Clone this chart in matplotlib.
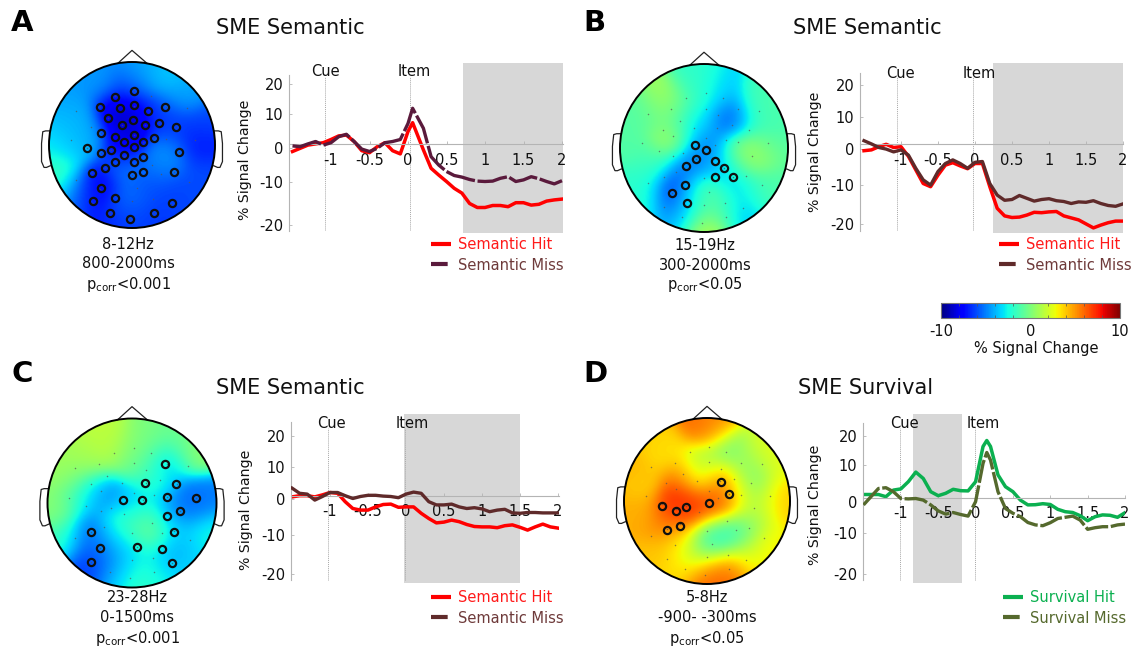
import numpy as np
import matplotlib
matplotlib.use("Agg")
import matplotlib.pyplot as plt
from matplotlib.patches import Circle
from matplotlib.cm import ScalarMappable
from matplotlib.colors import Normalize
from matplotlib.ticker import FixedLocator

W, H = 1138, 651
plt.rcParams['font.family'] = ['DejaVu Sans']
plt.rcParams['mathtext.fontset'] = 'dejavusans'

# ---------- time courses ----------
t = [-1.5,-1.4,-1.3,-1.2,-1.1,-1.0,-0.9,-0.8,-0.7,-0.6,-0.5,-0.4,-0.3,-0.2,-0.1,0.0,0.1,0.2,0.3,0.4,0.5,
     0.6,0.7,0.8,0.9,1.0,1.1,1.2,1.3,1.4,1.5,1.6,1.7,1.8,1.9,2.0]
t_a = [-1.5,-1.4,-1.3,-1.2,-1.1,-1.0,-0.9,-0.8,-0.7,-0.6,-0.5,-0.4,-0.3,-0.2,-0.1,0.0,0.06,0.2,0.3,0.4,0.5,
       0.6,0.7,0.8,0.9,1.0,1.1,1.2,1.3,1.4,1.5,1.6,1.7,1.8,1.9,2.0]
t_d = [-1.5,-1.4,-1.3,-1.2,-1.1,-1.0,-0.9,-0.8,-0.7,-0.6,-0.5,-0.4,-0.3,-0.2,-0.1,0.0,0.1,0.15,0.2,0.3,0.4,0.5,
       0.6,0.7,0.8,0.9,1.0,1.1,1.2,1.3,1.4,1.5,1.6,1.7,1.8,1.9,2.0]

a_hit = [-1.8,-1,-0.2,0.1,0.4,1.2,2.1,2.3,0.7,-1.6,-2.1,-0.6,0.4,-1.6,-2.4,3.2,5.4,-1.4,-6,-7.7,-9.3,
         -11,-12.2,-14.8,-15.8,-15.8,-15.3,-15.3,-15.6,-14.6,-14.6,-15.2,-15,-14.2,-13.9,-13.7]
a_miss = [-0.4,-0.6,0.1,0.7,-0.2,0.4,1.9,2.5,0.7,-1.2,-1.8,-1,0.4,0.7,1.2,5.2,9,4,-3.1,-5.2,-6.8,
          -7.8,-8.2,-8.8,-9.2,-9.3,-9.2,-8.5,-8.1,-9.3,-8.9,-8.1,-8.6,-9.3,-9.9,-9.1]
b_hit = [-1.6,-1.4,-0.6,0,-0.8,-0.6,-3,-6.4,-9.8,-10.6,-7.7,-5.2,-4.6,-5.4,-6.1,-4.8,-4.8,-10.6,-16,-17.9,-18.3,
         -18.2,-17.7,-17,-17.1,-16.9,-16.8,-17.9,-18.4,-18.9,-19.9,-20.9,-20.2,-19.6,-19.2,-19.2]
b_miss = [0.9,0.1,-0.8,-1.2,-1.9,-1.4,-2.7,-6,-8.9,-10.2,-6.8,-4.8,-3.9,-4.8,-6,-4.5,-4.3,-9.8,-12.7,-14,-13.8,
          -12.8,-13.5,-14.2,-13.8,-13.6,-14.1,-14.3,-14.8,-14.4,-14.5,-14.1,-14.8,-15.3,-15.5,-14.9]
c_hit = [-0.3,0,0,-0.3,0.2,0.8,0.6,-1.5,-3.2,-3.6,-3.6,-2.8,-2.2,-2.1,-2.9,-2.8,-2.8,-4.4,-5.7,-6.8,-6.6,
         -6.1,-6.5,-7.2,-7.7,-7.8,-7.8,-8,-7.5,-7.3,-7.9,-8.6,-7.8,-7.1,-7.8,-8.1]
c_miss = [1.9,0.6,0.4,-1.1,-0.2,0.8,0.8,0,-0.7,-0.2,0.1,0.1,-0.1,-0.2,-0.5,0.4,0.9,0.6,-1.5,-2.3,-2.3,
          -2.1,-2.8,-3.2,-3,-3.3,-4,-3.6,-3.4,-4.3,-4.4,-4.2,-4.2,-4.3,-4.3,-4.3]
d_hit = [0.8,0.8,0.8,0.25,1.9,2.2,4,6.4,4.8,1.5,0.5,1.1,2.1,1.75,1.7,4,12.8,14.3,12.8,5.7,2.75,1.5,
         -0.6,-1.8,-1.75,-1.5,-1.7,-2.9,-3.5,-3.7,-4.5,-5.75,-4.75,-4.3,-4.4,-4.9,-3.75]
d_miss = [-1.8,0.25,2.3,2.5,1.5,-0.2,-0.3,-0.2,-0.6,-1.8,-3.3,-4.1,-3.7,-4.2,-4.6,-1,8.6,11.3,9.4,1.5,-2.7,-3.9,
          -4.75,-6.2,-6.8,-7,-6.25,-5.2,-4.9,-4.6,-5.6,-7.9,-7.5,-7.25,-7.25,-6.8,-6.6]

x_ticks = [-1, -0.5, 0, 0.5, 1, 1.5, 2]
x_tick_labels = ['-1', '-0.5', '0', '0.5', '1', '1.5', '2']
y_tick_labels = ['20', '10', '0', '-10', '-20']

# ---------- scalp readings: x, y, % signal change ----------
a_read = [(-0.95,-0.3,-1.5),(-0.85,-0.45,-1.5),(-0.98,0,-3),(-0.75,0,-3.5),(-0.7,0.3,-4),(-0.55,0.1,-4.2),(-0.8,0.5,-4.5),(-0.85,0.3,-3.5),
          (-0.4,0.75,-4.5),(0.2,0.9,-3.8),(0.4,0.85,-3.5),(0.6,0.6,-4.3),(0.85,0.2,-6),(0.8,0,-7.5),(0.85,-0.3,-6),(0.45,-0.1,-4.3),
          (0.35,-0.25,-5),(0,0.7,-6.3),(0.05,0.95,-4.5),(-0.2,0.4,-8.5),(0,0.3,-8.8),(-0.1,0,-8),(0.3,0.4,-6.3),(-0.4,-0.5,-8),(-0.55,-0.6,-7.3),
          (-0.1,-0.3,-5),(-0.05,-0.7,-5),(0.2,-0.5,-6),(0.5,-0.6,-6.3),(-0.2,-0.9,-7),(0,-0.95,-6),(0.2,-0.9,-6.5),(0.7,-0.6,-6),(-0.7,-0.6,-5),(0.5,0.2,-6.5)]
b_read = [(-0.45,0.55,1.2),(-0.4,0.1,1),(0.6,-0.1,1.5),(0.45,-0.1,0.3),(0,-0.95,1.5),(0,-0.55,0),(-0.38,-0.53,-7.5),(-0.2,-0.25,-5.5),(0,0,-5),
          (0.2,-0.2,-4),(0.35,0.35,-5.5),(0.2,0.7,-3.5),(0.4,-0.4,-3.5),(-0.3,-0.8,-4),(0.5,-0.75,-3.5),(0.8,0.5,-1),(-0.8,-0.4,-2),
          (0.85,-0.5,-1),(-0.1,0.3,-3.5),(-0.7,0.4,-1),(0.7,0.3,-1.5),(-0.05,0.85,-2),(0.2,-0.7,-1.5),(-0.6,-0.2,-1.5),(-0.9,0,-1),
          (0.8,0,-1),(-0.15,-0.6,-3),(-0.3,0.4,-1),(-0.1,0.7,-1.5),(0.7,0.6,-1.5),(-0.7,-0.6,-2),(0.7,-0.5,-1.5)]
c_read = [(-0.3,0.75,1.6),(-0.75,0.3,0.8),(-0.5,0.5,1),(0,0.6,0.3),(0.7,0.6,0.5),(0.4,0.48,-4.2),(0.5,0.8,-0.5),(0.3,0.2,-2),(0.6,0,-6),
          (0.8,0.05,-5),(0.45,-0.1,-4.5),(-0.4,0.1,-5),(-0.6,0.1,-2),(-0.9,-0.1,0.3),(0,0,-4),(0.1,-0.2,-1),(0.25,-0.3,0.5),(-0.2,-0.3,-1.3),
          (0.5,-0.35,-3.5),(0.85,-0.35,-2.5),(-0.5,-0.35,-6),(-0.5,-0.7,-6.5),(-0.3,-0.5,-5),(0,-0.55,-3),(0,-0.9,-1.5),(-0.2,-0.8,-4.5),
          (0.3,-0.8,-2.5),(0.5,-0.6,-4.5),(-0.8,-0.4,-2),(0.7,-0.7,-3),(0.2,0.75,0),(0.15,0.45,-1)]
d_read = [(-0.1,0.9,6),(0.1,0.9,5),(-0.5,0.6,3),(-0.3,0.3,6),(-0.8,0.2,3.5),(-0.4,-0.05,7.5),(-0.2,-0.1,7),(0.05,-0.05,7),(0.2,0.2,6.5),
          (0.28,0.05,6),(-0.5,-0.3,5.5),(-0.8,-0.2,4.5),(-0.3,-0.5,3),(0.1,-0.4,-1),(0.08,-0.55,-3),(0.35,-0.38,-2),(0.5,-0.6,1),(-0.1,-0.7,1.5),
          (0.1,-0.9,6),(0.2,-0.85,5.5),(-0.35,-0.85,3.5),(0.5,-0.8,3),(0.52,0.25,-1),(0.25,0.6,-0.5),(-0.1,0.45,0.5),(0,0.3,2.5),(0.5,0.5,1),
          (0.65,0,1.5),(0.9,0,3.5),(0.85,0.4,2.5),(0.8,-0.5,3),(0.55,-0.2,1),(0.45,0.15,1),(-0.9,0.35,4.5),(-0.6,0.7,4),(-0.95,-0.1,4.5),
          (-0.65,-0.65,4),(0,-0.97,6.5),(0.3,-0.9,6.5),(0.95,0,4.2),(0.7,0.65,2.5),(0.7,-0.7,3.5)]

a_sig = [(0.02,0.65),(-0.21,0.58),(-0.38,0.46),(-0.15,0.44),(0.02,0.48),(0.19,0.41),(0.40,0.46),(-0.29,0.32),(0.01,0.30),(-0.12,0.24),
         (0.16,0.24),(0.33,0.27),(0.53,0.22),(-0.37,0.14),(-0.21,0.10),(0.02,0.12),(-0.10,0.04),(0.13,0.04),(0.26,0.09),(0.02,-0.02),
         (-0.54,-0.04),(-0.25,-0.06),(-0.37,-0.10),(-0.10,-0.12),(0.13,-0.14),(0.57,-0.08),(0.02,-0.20),(-0.21,-0.21),(-0.33,-0.28),
         (-0.48,-0.34),(0,-0.36),(0.13,-0.33),(0.50,-0.33),(-0.37,-0.52),(-0.20,-0.64),(-0.47,-0.68),(0.48,-0.70),(-0.26,-0.82),(0.26,-0.82),(-0.02,-0.89)]
b_sig = [(-0.11,0.04),(0.02,-0.02),(-0.10,-0.13),(0.13,-0.15),(-0.21,-0.22),(0.24,-0.24),(0.13,-0.34),(0.35,-0.35),(-0.23,-0.44),(-0.38,-0.53),(-0.20,-0.65)]
c_sig = [(0.39,0.46),(0.15,0.24),(0.52,0.22),(-0.11,0.04),(0.12,0.03),(0.41,0.07),(0.76,0.06),(0.57,-0.09),(0.41,-0.15),(0.50,-0.34),
         (-0.49,-0.34),(-0.38,-0.53),(0.06,-0.52),(0.36,-0.54),(-0.48,-0.70),(0.47,-0.71)]
d_sig = [(0.17,0.23),(0.26,0.08),(0.02,-0.03),(-0.25,-0.07),(-0.37,-0.12),(-0.54,-0.06),(-0.33,-0.30),(-0.48,-0.35)]

sensors = [(-0.21,0.59),(0.02,0.65),(0.23,0.59),(-0.39,0.46),(0.02,0.47),(0.41,0.46),(0.66,0.44),(-0.67,0.41),(-0.29,0.32),(0.17,0.39),
           (-0.12,0.24),(0.16,0.24),(0.33,0.27),(0.53,0.22),(-0.49,0.22),(-0.37,0.14),(0.02,0.12),(0.26,0.09),(-0.74,0.06),(-0.54,-0.04),
           (-0.37,-0.10),(0.41,0.07),(0.76,0.06),(0.57,-0.09),(-0.25,-0.06),(0.13,0.04),(-0.67,-0.42),(-0.48,-0.34),(0,-0.36),(0.35,-0.35),
           (0.69,-0.44),(-0.38,-0.53),(-0.33,-0.28),(0.06,-0.52),(0.24,-0.24),(0.25,-0.65),(-0.48,-0.70),(0,-0.68),(0.47,-0.71),(-0.26,-0.82),
           (0.26,-0.82),(-0.02,-0.89),(0.50,-0.33),(-0.10,-0.13)]

cb_ticks = [-10, 0, 10]
cb_minor = [-8, -6, -4, -2, 2, 4, 6, 8]

# ---------- layout (pixels of the 1138x651 canvas) ----------
panels = [
    dict(letter='A', lx=22, ly=23, title='SME Semantic', tx=290, ty=28,
         head=(132, 145, 83), read=a_read, sig=a_sig, info=('8-12Hz', '800-2000ms', r'p$_{\mathrm{corr}}$<0.001'), ix=128, iy=(244, 264, 285),
         x0=408, xu=77, left=289, right=563, top=63.3, bottom=233.3, zero=144.3,
         span=(0.714, 2.013), cue=-1.078, item=0.026, cue_xy=(325, 72), item_xy=(414, 72),
         spine=(75, 231), ylabel=(245, 160), ypos=[15, 7.5, -1, -9.5, -20.25],
         time=t_a, hit=a_hit, miss=a_miss, miss_ls=(0, (9, 0.8)),
         names=('Semantic Hit', 'Semantic Miss'), colors=('#ff0000', '#5a1a3c'), tcolors=('#ff1a1a', '#6e3a3a'), leg=(431, 237)),
    dict(letter='B', lx=594, ly=23, title='SME Semantic', tx=867, ty=28,
         head=(704, 148, 84), read=b_read, sig=b_sig, info=('15-19Hz', '300-2000ms', r'p$_{\mathrm{corr}}$<0.05'), ix=705, iy=(245, 265, 285),
         x0=975, xu=74, left=860, right=1123, top=63.3, bottom=233.3, zero=144.3,
         span=(0.243, 2.0), cue=-1.054, item=-0.027, cue_xy=(900, 73), item_xy=(979, 73),
         spine=(73, 231), ylabel=(815, 152), ypos=[14.75, 6.75, -1.25, -10.25, -20],
         time=t, hit=b_hit, miss=b_miss, miss_ls='-',
         names=('Semantic Hit', 'Semantic Miss'), colors=('#ff0000', '#5f2a2a'), tcolors=('#ff1a1a', '#6e3a3a'), leg=(999, 237)),
    dict(letter='C', lx=22, ly=374, title='SME Semantic', tx=290, ty=388,
         head=(132, 503, 84.5), read=c_read, sig=c_sig, info=('23-28Hz', '0-1500ms', r'p$_{\mathrm{corr}}$<0.001'), ix=137, iy=(598, 618, 639),
         x0=406, xu=76, left=291, right=559, top=414, bottom=583.3, zero=495.7,
         span=(-0.026, 1.5), cue=-1.026, item=-0.013, cue_xy=(331, 424), item_xy=(412, 424),
         spine=(422, 580), ylabel=(246, 510), ypos=[15, 7.25, -0.8, -9.8, -19.6],
         time=t, hit=c_hit, miss=c_miss, miss_ls='-',
         names=('Semantic Hit', 'Semantic Miss'), colors=('#ff0000', '#5f2a2a'), tcolors=('#ff1a1a', '#6e3a3a'), leg=(431, 590)),
    dict(letter='D', lx=595, ly=374, title='SME Survival', tx=866, ty=388,
         head=(707, 501, 83), read=d_read, sig=d_sig, info=('5-8Hz', '-900- -300ms', r'p$_{\mathrm{corr}}$<0.05'), ix=707, iy=(598, 618, 639),
         x0=976, xu=75, left=863, right=1125, top=414, bottom=583.3, zero=497.7,
         span=(-0.84, -0.187), cue=-1.013, item=-0.013, cue_xy=(904, 424), item_xy=(983, 424),
         spine=(423, 580), ylabel=(815, 505), ypos=[15.5, 8.2, -1.2, -8.9, -19.1],
         time=t_d, hit=d_hit, miss=d_miss, miss_ls=(0, (7, 0.8)),
         names=('Survival Hit', 'Survival Miss'), colors=('#0bb050', '#55692d'), tcolors=('#0bb050', '#55692d'), leg=(1003, 590)),
]

fig = plt.figure(figsize=(W / 100, H / 100), dpi=100, facecolor='white')

def px_text(x, y, s, **kw):
    kw.setdefault('ha', 'center')
    kw.setdefault('va', 'center')
    return fig.text(x / W, 1 - y / H, s, **kw)

def px_axes(l, t_, r, b):
    return fig.add_axes([l / W, 1 - b / H, (r - l) / W, (b - t_) / H])

def draw_head(p):
    cx, cy, R = p['head']
    k = 1.3
    ax = px_axes(cx - k * R, cy - k * R, cx + k * R, cy + k * R)
    ax.set_xlim(-k, k); ax.set_ylim(-k, k); ax.axis('off')
    r = np.array(p['read'])
    gx, gy = np.meshgrid(np.linspace(-1, 1, 220), np.linspace(-1, 1, 220))
    d2 = (gx[..., None] - r[:, 0]) ** 2 + (gy[..., None] - r[:, 1]) ** 2
    w = np.exp(-d2 / (2 * 0.17 ** 2)) + 1e-9
    z = (w * r[:, 2]).sum(-1) / w.sum(-1)
    im = ax.imshow(z, extent=(-1, 1, -1, 1), origin='lower', cmap='jet', vmin=-10, vmax=10, interpolation='bilinear', zorder=1)
    im.set_clip_path(Circle((0, 0), 1, transform=ax.transData))
    ax.add_patch(Circle((0, 0), 1, fc='none', ec='black', lw=1.4, zorder=4))
    ax.plot([-0.17, 0, 0.18], [0.985, 1.14, 0.985], color='#222222', lw=0.9, zorder=3)
    for sgn in (-1, 1):
        ax.plot([sgn * v for v in (0.985, 1.04, 1.075, 1.09, 1.09, 1.06, 1.03, 0.985)],
                [0.17, 0.17, 0.16, 0.02, -0.2, -0.27, -0.27, -0.25], color='#222222', lw=0.9, zorder=3)
    s = np.array(sensors)
    ax.scatter(s[:, 0], s[:, 1], s=1.2, color='#555555', alpha=0.7, linewidths=0, zorder=5)
    g = np.array(p['sig'])
    ax.plot(g[:, 0], g[:, 1], ls='none', marker='o', ms=5.2, mfc='none', mec='#101010', mew=1.6, zorder=6)

def draw_lines(p):
    ax = px_axes(p['left'], p['top'], p['right'], p['bottom'])
    yu = 4.0
    ax.set_xlim((p['left'] - p['x0']) / p['xu'], (p['right'] - p['x0']) / p['xu'])
    ax.set_ylim((p['zero'] - p['bottom']) / yu, (p['zero'] - p['top']) / yu)
    ax.patch.set_alpha(0)
    ax.axvspan(p['span'][0], p['span'][1], color='#d7d7d7', lw=0, zorder=0)
    for v in (p['cue'], p['item']):
        ax.axvline(v, ymin=0.02, ymax=0.92, color='#a8a8a8', lw=0.7, ls=(0, (1, 1)), zorder=1)
    for sp in ('top', 'right'):
        ax.spines[sp].set_visible(False)
    ax.spines['bottom'].set_position(('data', 0))
    ax.spines['bottom'].set_color('#b4b4b4')
    ax.spines['bottom'].set_linewidth(0.8)
    ax.spines['left'].set_color('#b4b4b4')
    ax.spines['left'].set_linewidth(0.8)
    ax.spines['left'].set_bounds((p['zero'] - p['spine'][1]) / yu, (p['zero'] - p['spine'][0]) / yu)
    ax.set_xticks(x_ticks, x_tick_labels)
    ax.tick_params(axis='x', direction='in', length=2, width=0.6, color='#b4b4b4', labelsize=10.5, pad=6, labelcolor='#111111')
    ax.set_yticks(p['ypos'], y_tick_labels)
    ax.tick_params(axis='y', direction='in', length=2, width=0.6, color='#b4b4b4', labelsize=10.5, pad=4, labelcolor='#111111')
    ax.plot(p['time'], p['hit'], color=p['colors'][0], lw=2.5, zorder=2, solid_joinstyle='round')
    ax.plot(p['time'], p['miss'], color=p['colors'][1], lw=2.4, ls=p['miss_ls'], zorder=3, solid_joinstyle='round')
    px_text(*p['cue_xy'], 'Cue', fontsize=10.5, color='#111111')
    px_text(*p['item_xy'], 'Item', fontsize=10.5, color='#111111')
    px_text(*p['ylabel'], '% Signal Change', fontsize=10.2, rotation=90, color='#111111')
    hit_h, = ax.plot([], [], color=p['colors'][0], lw=3, solid_capstyle='butt')
    miss_h, = ax.plot([], [], color=p['colors'][1], lw=3, ls=(0, (4, 1, 1.2, 1)))
    leg = ax.legend([hit_h, miss_h], list(p['names']), loc='upper left',
                    bbox_to_anchor=(p['leg'][0] / W, 1 - p['leg'][1] / H), bbox_transform=fig.transFigure,
                    frameon=False, fontsize=10.5, borderpad=0, borderaxespad=0, handlelength=1.37, handletextpad=0.45, labelspacing=0.38)
    for txt, c in zip(leg.get_texts(), p['tcolors']):
        txt.set_color(c)

for p in panels:
    px_text(p['lx'], p['ly'], p['letter'], fontsize=21, fontweight='bold', color='black')
    px_text(p['tx'], p['ty'], p['title'], fontsize=15, color='#111111')
    for s_, y_ in zip(p['info'], p['iy']):
        px_text(p['ix'], y_, s_, fontsize=10.5, color='#111111')
    draw_head(p)
    draw_lines(p)

# colour bar
cax = px_axes(941, 303, 1120, 318)
cb = fig.colorbar(ScalarMappable(Normalize(-10, 10), 'jet'), cax=cax, orientation='horizontal')
cb.set_ticks(cb_ticks, labels=['-10', '0', '10'])
cb.ax.tick_params(which='major', labelsize=10.5, length=0, pad=4, labelcolor='#111111')
cb.ax.xaxis.set_minor_locator(FixedLocator(cb_minor))
cb.ax.tick_params(which='minor', length=2, width=0.5, color='#555555', direction='in', top=True, bottom=True)
cb.outline.set_edgecolor('#777777')
cb.outline.set_linewidth(0.8)
px_text(1036, 348, '% Signal Change', fontsize=10.5, color='#111111')

fig.savefig('out.png', dpi=100, facecolor='white')
